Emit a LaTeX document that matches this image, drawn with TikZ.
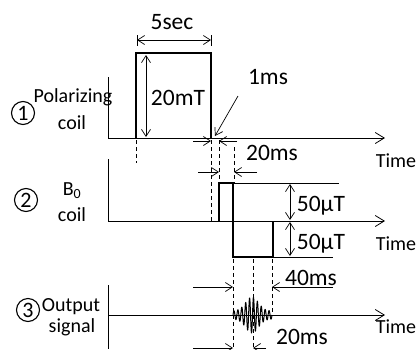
\documentclass[tikz,border=0pt]{standalone}
\usepackage{fontspec}
\setmainfont{Carlito}
\usetikzlibrary{arrows.meta}
\begin{document}
\begin{tikzpicture}[x=1pt,y=-1pt,
  thinline/.style={line width=0.8pt},
  pulse/.style={line width=2.4pt, line join=miter},
  timeaxis/.style={line width=0.8pt, -{Straight Barb[length=9pt,width=11pt]}},
  dimarrow/.style={line width=0.7pt, {Straight Barb[length=7pt,width=9pt]}-{Straight Barb[length=7pt,width=9pt]}},
  ptr/.style={line width=0.7pt, -{Straight Barb[length=7pt,width=9pt]}},
  guide/.style={line width=0.8pt, dash pattern=on 4pt off 3pt},
  lbl/.style={font=\fontsize{20}{22}\selectfont, inner sep=0pt, anchor=base},
  val/.style={font=\fontsize{23.5}{25}\selectfont, inner sep=0pt, anchor=base},
  circ/.style={circle, draw, line width=1.1pt, minimum size=23pt, inner sep=0pt,
    font=\fontsize{22}{22}\selectfont}
]
\useasboundingbox (0,0) rectangle (418,349);

% ---------- panel 1 ----------
\coordinate (a1top) at (108,77);
\coordinate (a1o) at (108,138);
\coordinate (a1end) at (385,138);
\draw[thinline] (a1top) -- (a1o);
\draw[timeaxis] (a1o) -- (a1end);
\coordinate (p1a) at (136,138); \coordinate (p1b) at (136,53);
\coordinate (p1c) at (211,53);  \coordinate (p1d) at (211,138);
\draw[pulse] (p1a) -- (p1b) -- (p1c) -- (p1d);
% 5 sec
\draw[thinline] (137,35) -- (137,46);
\draw[thinline] (211,35) -- (211,46);
\coordinate (w1l) at (137,40); \coordinate (w1r) at (211,40);
\draw[dimarrow] (w1l) -- (w1r);
\node[val] (t5sec) at (172,29) {5sec};
% 20 mT
\coordinate (h1t) at (146,55); \coordinate (h1b) at (146,137);
\draw[dimarrow] (h1t) -- (h1b);
\node[val] (t20mT) at (178,105) {20mT};
% 1 ms
\node[val] (t1ms) at (268,84) {1ms};
\coordinate (q1s) at (238,96); \coordinate (q1e) at (215,136);
\draw[ptr] (q1s) -- (q1e);
\coordinate (m1a) at (193,141); \coordinate (m1b) at (211,141);
\coordinate (m1c) at (237,141); \coordinate (m1d) at (219,141);
\draw[ptr] (m1a) -- (m1b);
\draw[ptr] (m1c) -- (m1d);
% guides
\draw[guide] (136,140) -- (136,163);
\draw[guide] (211,140) -- (211,221);
\draw[guide] (219,140) -- (219,183);
\draw[guide] (234,147) -- (234,183);
% labels
\node[circ] (c1) at (23,113) {1};
\node[lbl] (lpol) at (73,102) {Polarizing};
\node[lbl] (lcoil1) at (72,129) {coil};
\node[lbl] (time1) at (396,167) {Time};

% ---------- panel 2 ----------
\coordinate (a2top) at (108,159);
\coordinate (a2o) at (108,221);
\coordinate (a2end) at (385,221);
\draw[thinline] (a2top) -- (a2o);
\draw[timeaxis] (a2o) -- (a2end);
\coordinate (p2a) at (219,221); \coordinate (p2b) at (219,183);
\coordinate (p2c) at (233,183); \coordinate (p2d) at (233,257);
\coordinate (p2e) at (273,257); \coordinate (p2f) at (273,221);
\draw[pulse] (p2a) -- (p2b) -- (p2c) -- (p2d) -- (p2e) -- (p2f);
\coordinate (r2t) at (339,183); \coordinate (r2b) at (333,257);
\draw[thinline] (p2c) -- (r2t);
\draw[thinline] (p2e) -- (r2b);
% 50 uT
\draw[dimarrow] (290,184) -- (290,220);
\draw[dimarrow] (290,222) -- (290,256);
\node[val] (t50a) at (321,211) {50µT};
\node[val] (t50b) at (321,249) {50µT};
% 20 ms
\coordinate (m2a) at (198,172); \coordinate (m2b) at (219,172);
\coordinate (m2c) at (257,172); \coordinate (m2d) at (234,172);
\draw[ptr] (m2a) -- (m2b);
\draw[ptr] (m2c) -- (m2d);
\node[val] (t20a) at (272,160) {20ms};
% labels
\node[circ] (c2) at (26,200) {2};
\node[lbl] (lb0) at (72,195) {B\textsubscript{0}};
\node[lbl] (lcoil2) at (72,221) {coil};
\node[lbl] (time2) at (396,250) {Time};

% ---------- panel 3 ----------
\coordinate (a3top) at (108,285);
\coordinate (a3bot) at (108,349);
\coordinate (a3o) at (108,315);
\coordinate (a3end) at (385,315);
\draw[thinline] (a3top) -- (a3bot);
\draw[timeaxis] (a3o) -- (a3end);
\draw[guide] (233,259) -- (233,349);
\draw[guide] (253,259) -- (253,349);
\draw[guide] (272,259) -- (272,315);
% signal
\draw[line width=1pt, line join=round]
  plot[domain=233:272, samples=500, smooth]
  (\x, {315 - (4+14*exp(-((\x-252)/9)^2))*sin(360*(\x-233)/3.9)});
% 40 ms
\coordinate (m3a) at (193,287); \coordinate (m3b) at (233,287);
\coordinate (m3c) at (333,287); \coordinate (m3d) at (272,287);
\draw[ptr] (m3a) -- (m3b);
\draw[ptr] (m3c) -- (m3d);
\node[val] (t40) at (311,285) {40ms};
% 20 ms bottom
\coordinate (m4a) at (193,348); \coordinate (m4b) at (233,348);
\coordinate (m4c) at (266,348); \coordinate (m4d) at (253,348);
\draw[ptr] (m4a) -- (m4b);
\draw[ptr] (m4c) -- (m4d);
\node[val] (t20b) at (302,344) {20ms};
% labels
\node[circ] (c3) at (28,310) {3};
\node[lbl] (lout) at (71,311) {Output};
\node[lbl] (lsig) at (72,332) {signal};
\node[lbl] (time3) at (396,333) {Time};
\end{tikzpicture}
\end{document}
